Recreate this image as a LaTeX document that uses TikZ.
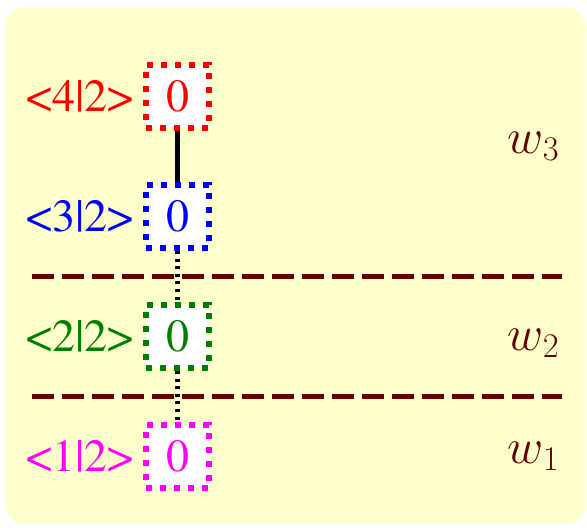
\documentclass[tikz,border=0pt]{standalone}
\usepackage[T1]{fontenc}
\usepackage{times}
\usetikzlibrary{positioning}
\definecolor{maroon}{HTML}{660000}
\definecolor{paper}{HTML}{FFFFCC}
\definecolor{leafgreen}{HTML}{008000}
\definecolor{pink}{HTML}{FF00FF}
\definecolor{red}{HTML}{FF0000}
\definecolor{blue}{HTML}{0000FF}

\begin{document}
\begin{tikzpicture}[
    x=0.5pt, y=-0.5pt,
    node distance=25.5pt and 4.5pt,
    font=\rmfamily\fontsize{23}{27}\selectfont,
    qbox/.style={draw=#1, text=#1, fill=white, line width=3pt,
      dash pattern=on 3pt off 4pt, minimum size=31.5pt, inner sep=0pt},
    qlab/.style={text=#1, inner sep=0pt},
    sep/.style={draw=maroon, line width=2.5pt, dash pattern=on 11pt off 4pt},
    wlab/.style={text=maroon, anchor=base east, inner sep=0pt},
    link/.style={line width=2.5pt},
    dlink/.style={line width=2.5pt, dash pattern=on 1.5pt off 2.3pt}
  ]
  \useasboundingbox (0,0) rectangle (587,527);
  \fill[paper, rounded corners=10pt] (5,7) rectangle (585,524);
  % level separators
  \draw[sep] (32,276) -- (562,276);
  \draw[sep] (32,396) -- (562,396);
  % states
  \node[qbox=red] (r4) at (177.5,96.5) {0};
  \node[qbox=blue, below=of r4] (r3) {0};
  \node[qbox=leafgreen, below=of r3] (r2) {0};
  \node[qbox=pink, below=of r2] (r1) {0};
  \node[qlab=red, base left=of r4] (l4) {<4|2>};
  \node[qlab=blue, base left=of r3] (l3) {<3|2>};
  \node[qlab=leafgreen, base left=of r2] (l2) {<2|2>};
  \node[qlab=pink, base left=of r1] (l1) {<1|2>};
  % weights
  \node[wlab] (w3) at (560,153) {$w_3$};
  \node[wlab] (w2) at (560,350) {$w_2$};
  \node[wlab] (w1) at (560,463) {$w_1$};
  \draw[link] (r4) -- (r3);
  \draw[dlink] (r3) -- (r2);
  \draw[dlink] (r2) -- (r1);
\end{tikzpicture}
\end{document}
